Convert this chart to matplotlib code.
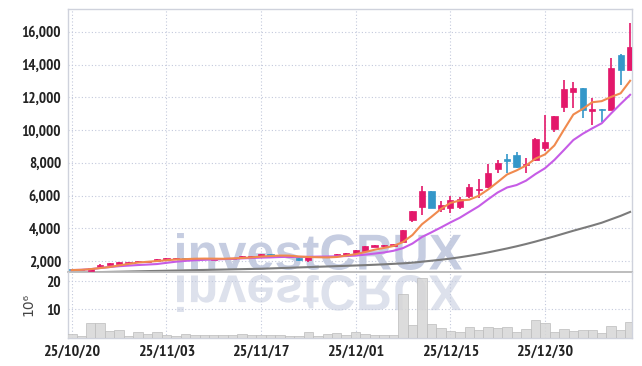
import matplotlib
matplotlib.use('Agg')
import matplotlib.pyplot as plt
import numpy as np
import pandas as pd
from matplotlib.textpath import TextPath
from matplotlib.font_manager import FontProperties
from matplotlib.patches import PathPatch
from matplotlib.transforms import Affine2D, IdentityTransform

# dados (60 pregões, 25/10/20 ... 26/01/13)
abertura = [1490, 1440, 1400, 1650, 1755, 1840, 1880, 1920, 1940, 1980,
            2080, 2100, 2180, 2140, 2110, 2080, 2130, 2120, 2200, 2240,
            2290, 2410, 2320, 2260, 2200, 2040, 2250, 2260, 2310, 2350,
            2510, 2610, 2880, 2900, 2940, 3190, 4500, 5300, 6260, 5200,
            5240, 5300, 5960, 6330, 6530, 7640, 8210, 8480, 7870, 8150,
            8930, 10060, 11390, 12310, 12580, 11140, 11290, 11220, 14570, 13680]
maxima = [1500, 1490, 1600, 1790, 1890, 1950, 1950, 2010, 2030, 2120,
          2190, 2190, 2190, 2170, 2150, 2170, 2160, 2210, 2310, 2310,
          2420, 2420, 2350, 2290, 2210, 2270, 2290, 2290, 2420, 2480,
          2690, 2930, 2990, 2990, 3070, 3900, 5080, 6570, 6270, 5650,
          5950, 5900, 6710, 6980, 7900, 8150, 8520, 8680, 8310, 9540,
          10920, 10880, 13030, 12930, 12580, 11960, 11290, 14420, 14630, 16510]
minima = [1440, 1430, 1390, 1640, 1740, 1830, 1870, 1910, 1930, 1960,
          2070, 2090, 2090, 2120, 2090, 2070, 2110, 2110, 2190, 2230,
          2270, 2320, 2300, 2240, 2030, 1930, 2230, 2240, 2300, 2340,
          2500, 2600, 2870, 2880, 2930, 3180, 4400, 4790, 5240, 4970,
          4930, 5200, 5850, 5850, 6470, 7390, 7390, 7700, 7390, 8100,
          8720, 9850, 11080, 11350, 10730, 10320, 10470, 11200, 12720, 13680]
fechamento = [1450, 1480, 1590, 1775, 1880, 1940, 1940, 2000, 2020, 2100,
              2180, 2180, 2100, 2150, 2140, 2160, 2150, 2200, 2300, 2300,
              2410, 2330, 2330, 2280, 2040, 2250, 2270, 2270, 2410, 2470,
              2675, 2920, 2980, 2970, 3060, 3890, 5050, 6260, 5240, 5440,
              5750, 5790, 6510, 6430, 7370, 8000, 8130, 7740, 7920, 9480,
              9280, 10880, 12510, 12580, 11220, 11290, 11220, 13810, 13680, 15040]
volume = [1.2, 0.6, 5.3, 5.1, 2.2, 2.5, 0.6, 1.8, 1.4, 2.1,
          0.9, 0.6, 1.4, 0.8, 0.8, 0.8, 0.8, 1.0, 1.4, 1.0,
          1.0, 0.9, 0.8, 0.6, 0.6, 1.8, 0.6, 1.2, 1.5, 0.9,
          2.1, 1.4, 0.9, 0.9, 1.0, 15.3, 4.4, 21.2, 4.7, 3.5,
          2.4, 1.8, 3.9, 2.6, 3.9, 3.5, 3.9, 1.8, 3.2, 6.1,
          5.1, 1.8, 3.2, 2.2, 2.5, 2.5, 1.5, 4.1, 2.6, 5.6]
# média de 60 dias (usa pregões anteriores à janela)
media60 = [1290, 1302, 1314, 1326, 1338, 1350, 1362, 1374, 1386, 1398,
           1410, 1422, 1434, 1446, 1458, 1470, 1482, 1494, 1506, 1518,
           1530, 1550, 1570, 1590, 1610, 1630, 1650, 1670, 1690, 1710,
           1730, 1750, 1775, 1800, 1830, 1860, 1900, 1960, 2020, 2080,
           2150, 2230, 2320, 2420, 2530, 2650, 2770, 2900, 3040, 3190,
           3350, 3510, 3680, 3850, 4010, 4170, 4340, 4550, 4760, 5000]
posicoes_datas = [0, 10, 20, 30, 40, 50]
rotulos_datas = ['25/10/20', '25/11/03', '25/11/17', '25/12/01', '25/12/15', '25/12/30']

ROSA = '#e3186a'
AZUL = '#3497c9'
GRADE = '#c3c9dc'

# fonte estreita e em negrito para todos os rótulos
plt.rcParams['font.family'] = ['PT Sans Narrow', 'DejaVu Sans']
plt.rcParams['font.weight'] = 'bold'

x = np.arange(len(fechamento))
s_fech = pd.Series(fechamento)
media5 = s_fech.rolling(5, min_periods=1).mean()
media10 = s_fech.rolling(10, min_periods=1).mean()

fig = plt.figure(figsize=(6.42, 3.66), dpi=100)
ax = fig.add_axes([68/642, 94.3/366, 564/642, 262.7/366])
axv = fig.add_axes([68/642, 28.5/366, 564/642, 65.8/366], sharex=ax)
for a in (ax, axv):
    a.set_facecolor('none')

# marca d'água com reflexo
tp = TextPath((0, 0), 'investCRUX', size=50,
              prop=FontProperties(family='Liberation Sans', weight='bold'))
bb = tp.get_extents()
sx = 285 / bb.width
sy = 37 / bb.height
t_topo = Affine2D().translate(-bb.x0, -bb.y0).scale(sx, sy).translate(177, 366 - 270)
t_refl = Affine2D().translate(-bb.x0, -bb.y0).scale(sx, -sy).translate(177, 366 - 275)
fig.add_artist(PathPatch(t_topo.transform_path(tp), facecolor='#c6cde1', edgecolor='none',
                         transform=IdentityTransform(), zorder=-2))
fig.add_artist(PathPatch(t_refl.transform_path(tp), facecolor='#dde1ec', edgecolor='none',
                         transform=IdentityTransform(), zorder=-2))

# candles
cores = [ROSA if c >= o else AZUL for o, c in zip(abertura, fechamento)]
base = np.minimum(abertura, fechamento)
altura = np.maximum(np.abs(np.array(fechamento) - np.array(abertura)), 50)
ax.vlines(x, minima, maxima, colors=cores, linewidth=1.2, zorder=3)
ax.bar(x, altura, bottom=base, width=0.66, color=cores, edgecolor=cores, linewidth=0.5, zorder=4)

ax.plot(x, media60, color='#7b7b7b', linewidth=1.5, zorder=2)
ax.plot(x, media10, color='#c65ce6', linewidth=1.5, zorder=5)
ax.plot(x, media5, color='#f08a4e', linewidth=1.5, zorder=5)

# volume
axv.bar(x, volume, width=1.0, color='#d6d6d6', edgecolor='#bdbdbd', linewidth=0.6,
        alpha=0.85, zorder=3)

ax.set_ylim(1350, 17390)
ax.set_xlim(-0.4, 59.2)
axv.set_ylim(0, 23.4)
ax.set_yticks(range(2000, 16001, 2000))
ax.set_yticklabels([f'{v:,}' for v in range(2000, 16001, 2000)])
axv.set_yticks([10, 20])
axv.set_xticks(posicoes_datas)
axv.set_xticklabels(rotulos_datas)
ax.tick_params(axis='x', labelbottom=False)

for a in (ax, axv):
    a.grid(True, linestyle=(0, (1, 2)), color=GRADE, linewidth=0.8, zorder=0)
    a.set_axisbelow(True)
    a.tick_params(length=0, pad=5, labelsize=11, labelcolor='#222222')
    for sp in a.spines.values():
        sp.set_color('#cfd2dc')
        sp.set_linewidth(1.0)
ax.spines['bottom'].set_color('#b8b8b8')
ax.spines['bottom'].set_linewidth(1.3)
axv.spines['top'].set_visible(False)
axv.tick_params(axis='x', labelsize=11.5)

axv.set_ylabel('10⁶', fontsize=10, color='#444444', labelpad=8,
               family='DejaVu Sans', fontweight='normal')

fig.savefig('out.png', dpi=100)
